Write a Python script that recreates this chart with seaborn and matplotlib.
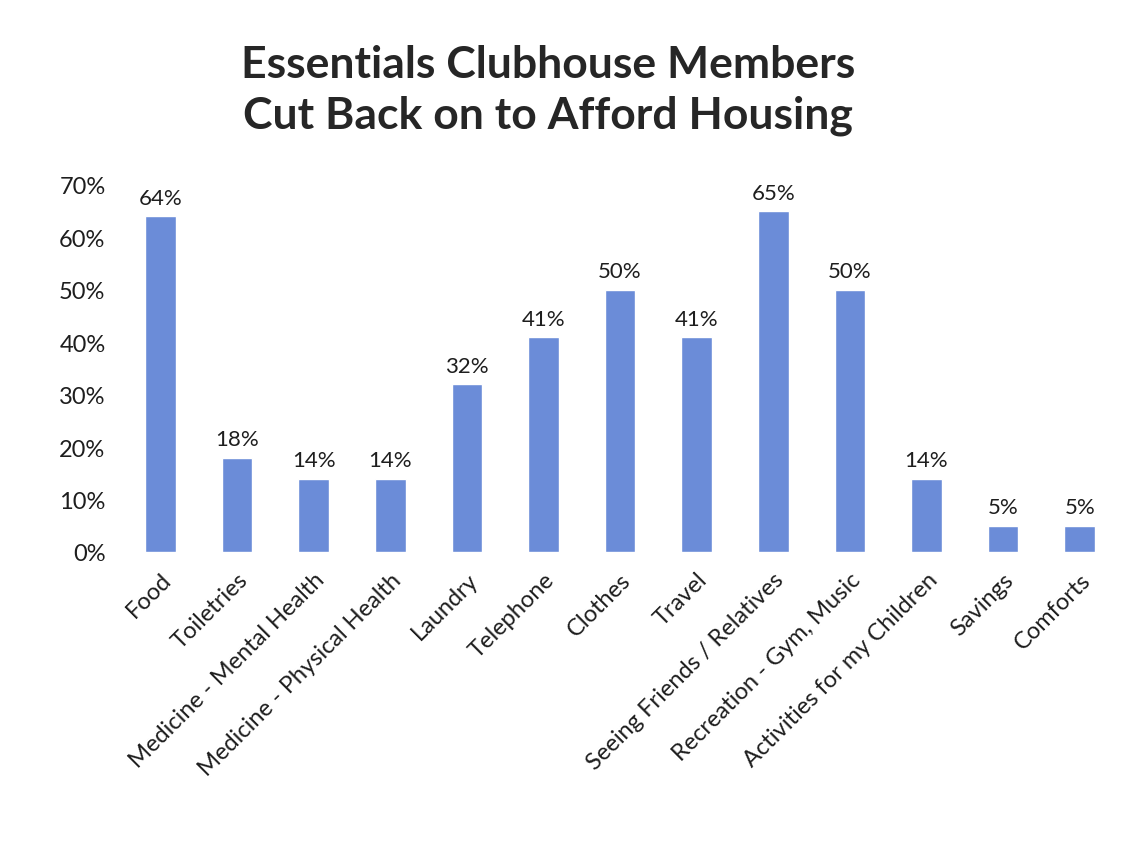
import matplotlib
matplotlib.use("Agg")
import matplotlib.pyplot as plt
import seaborn as sns
import pandas as pd

categories = ["Food", "Toiletries", "Medicine - Mental Health", "Medicine - Physical Health",
              "Laundry", "Telephone", "Clothes", "Travel", "Seeing Friends / Relatives",
              "Recreation - Gym, Music", "Activities for my Children", "Savings", "Comforts"]
percentages = [64, 18, 14, 14, 32, 41, 50, 41, 65, 50, 14, 5, 5]
y_ticks = [0, 10, 20, 30, 40, 50, 60, 70]

sns.set_theme(style="white")
plt.rcParams["font.family"] = ["Lato", "DejaVu Sans"]

df = pd.DataFrame({"category": categories, "pct": percentages})

fig = plt.figure(figsize=(11.42, 8.45), dpi=100)
ax = fig.add_axes([0.107, 0.3456, 0.872, 0.4345])

sns.barplot(data=df, x="category", y="pct", color="#6b8cd8", width=0.4,
            saturation=1, ax=ax)

ax.set_ylim(0, 70)
ax.set_xlim(-0.5, len(categories) - 0.5)
ax.set_yticks(y_ticks)
ax.set_yticklabels([f"{v}%" for v in y_ticks], fontsize=17, color="#1e1e1e")
ax.set_xticks(range(len(categories)))
ax.set_xticklabels(categories, rotation=45, ha="right", rotation_mode="anchor",
                   fontsize=17, color="#1e1e1e")
ax.tick_params(axis="x", length=0, pad=12)
ax.tick_params(axis="y", length=0, pad=12)
ax.set_xlabel("")
ax.set_ylabel("")
for s in ax.spines.values():
    s.set_visible(False)

for i, v in enumerate(percentages):
    ax.text(i, v + 1.6, f"{v}%", ha="center", va="bottom", fontsize=16,
            color="#1e1e1e", clip_on=False)

fig.text(0.48, 0.893, "Essentials Clubhouse Members\nCut Back on to Afford Housing",
         ha="center", va="center", fontsize=32, fontweight="bold",
         color="#262626", linespacing=1.3)

fig.savefig("out.png", dpi=100, facecolor="white")
